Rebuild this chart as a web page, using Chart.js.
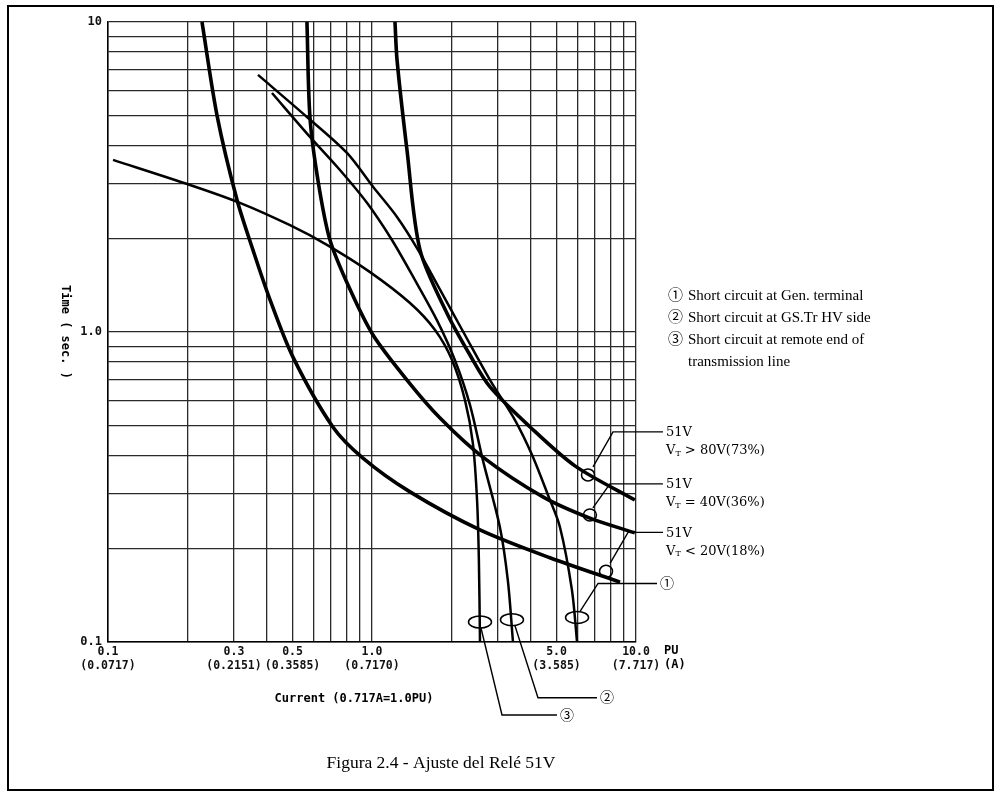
<!DOCTYPE html>
<html>
<head>
<meta charset="utf-8">
<script src="https://cdn.jsdelivr.net/npm/chart.js@4.4.1/dist/chart.umd.min.js"></script>
<style>
  html, body { margin: 0; padding: 0; background: #fff; }
  canvas { display: block; }
</style>
</head>
<body>
<canvas id="relay" width="1001" height="798"></canvas>
<script>
// Relay 51V setting - time/current curves (log-log)

// grid ticks (both axes use the same 1-2-...-9 decades)
const gridValues = [0.1, 0.2, 0.3, 0.4, 0.5, 0.6, 0.7, 0.8, 0.9, 1, 2, 3, 4, 5, 6, 7, 8, 9, 10];

// x tick labels: PU and amps
const xLabelValues = [0.1, 0.3, 0.5, 1, 5, 10];
const xLabelPU = ['0.1', '0.3', '0.5', '1.0', '5.0', '10.0'];
const xLabelAmp = ['(0.0717)', '(0.2151)', '(0.3585)', '(0.7170)', '(3.585)', '(7.717)'];

// y tick labels
const yLabelValues = [0.1, 1, 10];
const yLabelText = ['0.1', '1.0', '10'];

// 51V relay curves
const relay20X = [0.227, 0.259, 0.308, 0.354, 0.411, 0.502, 0.711, 0.924, 1.393, 2.565, 4.72, 8.70];
const relay20Y = [10, 4.98, 2.67, 1.84, 1.27, 0.83, 0.494, 0.392, 0.305, 0.230, 0.187, 0.156];

const relay40X = [0.567, 0.582, 0.624, 0.693, 0.826, 1.009, 1.357, 1.81, 2.63, 4.44, 6.69, 9.9];
const relay40Y = [10, 4.94, 3.09, 1.98, 1.37, 0.978, 0.70, 0.528, 0.395, 0.294, 0.251, 0.225];

const relay80X = [1.222, 1.244, 1.357, 1.52, 1.923, 2.35, 2.80, 3.97, 5.87, 9.9];
const relay80Y = [10, 7.54, 3.86, 1.84, 1.15, 0.843, 0.665, 0.494, 0.370, 0.287];

// short circuit current decrement curves
const fault1X = [0.370, 0.567, 0.804, 1.009, 1.244, 1.494, 1.81, 2.25, 2.80, 3.48, 4.04, 4.64, 5.15, 5.72, 5.98];
const fault1Y = [6.75, 4.94, 3.78, 2.94, 2.35, 1.84, 1.37, 0.978, 0.70, 0.520, 0.401, 0.298, 0.235, 0.147, 0.1];

const fault2X = [0.418, 0.582, 0.756, 0.957, 1.19, 1.455, 1.763, 2.06, 2.35, 2.63, 3.05, 3.27, 3.42];
const fault2Y = [5.90, 4.26, 3.33, 2.61, 1.98, 1.47, 1.09, 0.812, 0.582, 0.386, 0.235, 0.158, 0.1];

const fault3X = [0.1045, 0.2045, 0.316, 0.489, 0.675, 0.983, 1.393, 1.733, 2.01, 2.25, 2.41, 2.50, 2.54, 2.565];
const fault3Y = [3.59, 2.98, 2.61, 2.21, 1.91, 1.56, 1.24, 1.015, 0.812, 0.603, 0.438, 0.287, 0.184, 0.1];

// where the callout ellipses sit on the curves
const markerX = [6.58, 6.69, 7.70, 5.98, 3.39, 2.565];
const markerY = [0.346, 0.257, 0.169, 0.120, 0.118, 0.116];

const legendLines = [
    ['\u2460', 'Short circuit at Gen. terminal'],
    ['\u2461', 'Short circuit at GS.Tr HV side'],
    ['\u2462', 'Short circuit at remote end of'],
    ['', 'transmission line']
];

const MONO_FAMILY = '"DejaVu Sans Mono", monospace';
const SERIF = '"DejaVu Serif", serif';
const TIMES = '"Liberation Serif", "Noto Sans CJK JP", serif';

function zip(xs, ys) {
    return xs.map((x, i) => ({ x: x, y: ys[i] }));
}

function near(a, b) {
    return Math.abs(a - b) < 1e-6 * Math.max(1, b);
}

function curve(xs, ys, width) {
    return {
        data: zip(xs, ys),
        borderColor: '#000',
        borderWidth: width,
        pointRadius: 0,
        tension: 0.3,
        fill: false
    };
}

// callout styling: ellipse size, leader path (offsets from ellipse), text
const callouts = [
    { rx: 6.5, ry: 6, path: [[5, -8], [25, -43], [75, -43]], relay: '> 80V(73%)' },
    { rx: 6.5, ry: 6, path: [[3, -7], [20, -31], [73, -31]], relay: '= 40V(36%)' },
    { rx: 6.5, ry: 6, path: [[4, -8], [22, -39], [57, -39]], relay: '< 20V(18%)' },
    { rx: 11.5, ry: 6, path: [[3, -6], [21, -34], [80, -34]], num: '\u2460' },
    { rx: 11.5, ry: 6, path: [[3, 6], [26, 78], [85, 78]], num: '\u2461' },
    { rx: 11.5, ry: 6, path: [[1, 6], [22, 93], [77, 93]], num: '\u2462' }
];

const overlay = {
    id: 'overlay',
    afterDraw(chart) {
        const { ctx, chartArea, scales } = chart;
        const xs = scales.x, ys = scales.y;
        ctx.save();
        ctx.strokeStyle = '#000';
        ctx.fillStyle = '#000';

        // callouts
        callouts.forEach((c, i) => {
            const cx = xs.getPixelForValue(markerX[i]);
            const cy = ys.getPixelForValue(markerY[i]);
            ctx.lineWidth = 1.5;
            ctx.beginPath();
            ctx.ellipse(cx, cy, c.rx, c.ry, 0, 0, Math.PI * 2);
            ctx.stroke();
            ctx.lineWidth = 1.4;
            ctx.beginPath();
            c.path.forEach((p, k) => {
                if (k === 0) ctx.moveTo(cx + p[0], cy + p[1]);
                else ctx.lineTo(cx + p[0], cy + p[1]);
            });
            ctx.stroke();
            const end = c.path[c.path.length - 1];
            const tx = cx + end[0] + 3, ty = cy + end[1];
            ctx.textBaseline = 'middle';
            ctx.textAlign = 'left';
            if (c.relay) {
                ctx.font = '13px ' + SERIF;
                ctx.fillText('51V', tx, ty + 1);
                ctx.fillText('V', tx, ty + 19);
                const w = ctx.measureText('V').width;
                ctx.font = '8px ' + SERIF;
                ctx.fillText('T', tx + w, ty + 22);
                const ws = ctx.measureText('T').width;
                ctx.font = '13px ' + SERIF;
                ctx.fillText(' ' + c.relay, tx + w + ws, ty + 19);
            } else {
                ctx.font = '14px ' + TIMES;
                ctx.fillText(c.num, tx, ty + 1);
            }
        });

        // axis titles and unit labels
        ctx.font = 'bold 12px ' + MONO_FAMILY;
        ctx.textAlign = 'center';
        ctx.textBaseline = 'middle';
        ctx.fillText('Current (0.717A=1.0PU)', 354, 699);
        ctx.textAlign = 'left';
        ctx.fillText('PU', 664, 651);
        ctx.fillText('(A)', 664, 665);

        ctx.save();
        ctx.translate(65, chartArea.top + (chartArea.bottom - chartArea.top) / 2);
        ctx.rotate(Math.PI / 2);
        ctx.textAlign = 'center';
        ctx.fillText('Time ( sec. )', 0, 0);
        ctx.restore();

        // legend
        ctx.font = '15px ' + TIMES;
        ctx.textAlign = 'left';
        legendLines.forEach((row, i) => {
            const ly = 296 + i * 22;
            if (row[0]) ctx.fillText(row[0], 668, ly);
            ctx.fillText(row[1], 688, ly);
        });

        // caption
        ctx.font = '17.5px ' + TIMES;
        ctx.textAlign = 'center';
        ctx.fillText('Figura 2.4 - Ajuste del Relé 51V', 441, 763);

        // outer frame
        ctx.lineWidth = 2;
        ctx.strokeRect(8, 6, 985, 784);
        ctx.restore();
    }
};

const gridStyle = { color: '#2a2a2a', lineWidth: 1.3, drawTicks: false };

new Chart(document.getElementById('relay'), {
    type: 'line',
    data: {
        datasets: [
            curve(relay20X, relay20Y, 3.6),
            curve(relay40X, relay40Y, 3.6),
            curve(relay80X, relay80Y, 3.6),
            curve(fault1X, fault1Y, 2.5),
            curve(fault2X, fault2Y, 2.5),
            curve(fault3X, fault3Y, 2.5)
        ]
    },
    options: {
        responsive: false,
        devicePixelRatio: 1,
        animation: false,
        layout: { padding: { left: 0, top: 22, right: 365, bottom: 0 } },
        plugins: { legend: { display: false }, tooltip: { enabled: false } },
        scales: {
            x: {
                type: 'logarithmic',
                min: 0.1,
                max: 10,
                afterBuildTicks: axis => { axis.ticks = gridValues.map(v => ({ value: v })); },
                afterFit: axis => { axis.height = 156; },
                grid: gridStyle,
                border: { color: '#000', width: 1.5 },
                ticks: {
                    autoSkip: false,
                    maxRotation: 0,
                    padding: 3,
                    color: '#111',
                    font: { family: MONO_FAMILY, size: 11.5, weight: 'bold', lineHeight: 1.2 },
                    callback: value => {
                        const i = xLabelValues.findIndex(v => near(value, v));
                        return i < 0 ? '' : [xLabelPU[i], xLabelAmp[i]];
                    }
                }
            },
            y: {
                type: 'logarithmic',
                min: 0.1,
                max: 10,
                afterBuildTicks: axis => { axis.ticks = gridValues.map(v => ({ value: v })); },
                afterFit: axis => { axis.width = 108; },
                grid: gridStyle,
                border: { color: '#000', width: 1.5 },
                ticks: {
                    autoSkip: false,
                    padding: 6,
                    color: '#111',
                    font: { family: MONO_FAMILY, size: 12, weight: 'bold' },
                    callback: value => {
                        const i = yLabelValues.findIndex(v => near(value, v));
                        return i < 0 ? '' : yLabelText[i];
                    }
                }
            }
        }
    },
    plugins: [overlay]
});
</script>
</body>
</html>
